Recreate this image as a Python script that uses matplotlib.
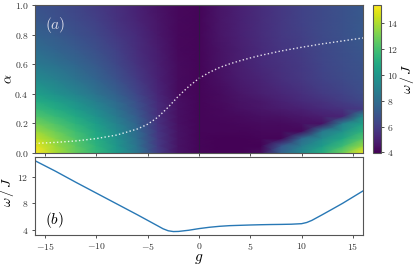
import numpy as np
import matplotlib
matplotlib.use("Agg")
import matplotlib.pyplot as plt
from matplotlib.ticker import FuncFormatter

plt.rcParams['mathtext.fontset'] = 'cm'
plt.rcParams['font.family'] = 'DejaVu Serif'

# heatmap grid
g_grid = [-16, -14, -12, -10, -8, -6, -4, -2, 0, 2, 4, 6, 8, 10, 12, 14, 16]
alpha_grid = [0.0, 0.05, 0.1, 0.15, 0.2, 0.25, 0.3, 0.35, 0.4, 0.5, 0.6, 0.7, 0.8, 0.9, 1.0]

# omega/J, one row per alpha value (bottom to top)
w_a000 = [15.4, 14.0, 12.7, 11.5, 10.1, 8.4, 6.0, 4.5, 4.1, 4.0, 4.0, 4.3, 7.6, 9.4, 11.1, 12.9, 15.2]
w_a005 = [15.0, 13.7, 12.5, 11.3, 9.9, 8.2, 5.9, 4.5, 4.1, 4.0, 4.0, 4.0, 7.0, 8.7, 10.2, 11.7, 13.6]
w_a010 = [14.4, 13.3, 12.2, 11.0, 9.7, 8.0, 5.8, 4.5, 4.1, 4.0, 4.0, 4.1, 4.1, 7.8, 9.4, 10.7, 12.3]
w_a015 = [13.7, 12.8, 11.8, 10.7, 9.4, 7.8, 5.7, 4.5, 4.1, 4.1, 4.1, 4.2, 4.2, 4.2, 8.5, 9.7, 11.3]
w_a020 = [13.0, 12.2, 11.3, 10.3, 9.0, 7.5, 5.6, 4.4, 4.1, 4.1, 4.2, 4.3, 4.3, 4.4, 4.5, 8.9, 10.5]
w_a025 = [12.3, 11.6, 10.8, 9.8, 8.6, 7.2, 5.5, 4.4, 4.1, 4.2, 4.3, 4.4, 4.5, 4.7, 4.9, 5.1, 9.6]
w_a030 = [11.6, 11.0, 10.2, 9.3, 8.2, 6.9, 5.4, 4.4, 4.1, 4.2, 4.4, 4.6, 4.8, 5.0, 5.3, 5.6, 5.9]
w_a035 = [11.0, 10.4, 9.7, 8.8, 7.8, 6.6, 5.3, 4.4, 4.1, 4.3, 4.5, 4.7, 5.0, 5.3, 5.6, 6.0, 6.4]
w_a040 = [10.4, 9.8, 9.1, 8.3, 7.4, 6.3, 5.2, 4.3, 4.1, 4.3, 4.6, 4.9, 5.2, 5.5, 5.9, 6.2, 6.6]
w_a050 = [9.4, 8.9, 8.3, 7.6, 6.8, 5.9, 5.0, 4.3, 4.1, 4.4, 4.8, 5.1, 5.5, 5.8, 6.2, 6.5, 6.8]
w_a060 = [8.6, 8.2, 7.7, 7.1, 6.4, 5.6, 4.9, 4.3, 4.1, 4.5, 4.9, 5.3, 5.6, 5.9, 6.3, 6.6, 6.9]
w_a070 = [8.0, 7.6, 7.2, 6.7, 6.1, 5.4, 4.8, 4.2, 4.1, 4.5, 4.9, 5.3, 5.7, 6.0, 6.4, 6.7, 7.0]
w_a080 = [7.5, 7.2, 6.8, 6.4, 5.8, 5.3, 4.7, 4.2, 4.1, 4.6, 5.0, 5.4, 5.8, 6.1, 6.5, 6.8, 7.1]
w_a090 = [7.1, 6.8, 6.5, 6.1, 5.6, 5.1, 4.6, 4.2, 4.1, 4.6, 5.0, 5.4, 5.8, 6.2, 6.5, 6.8, 7.1]
w_a100 = [6.8, 6.6, 6.3, 5.9, 5.5, 5.0, 4.5, 4.2, 4.1, 4.6, 5.0, 5.4, 5.8, 6.2, 6.5, 6.8, 7.1]

# dotted curve alpha*(g)
g_line = [-16, -14, -12, -10, -8, -6, -5, -4, -3, -2, -1, 0, 1, 2, 3, 4, 5, 6, 8, 10, 12, 14, 16]
alpha_line = [0.065, 0.072, 0.082, 0.098, 0.122, 0.163, 0.195, 0.243, 0.31, 0.385, 0.45, 0.505,
              0.545, 0.578, 0.603, 0.624, 0.643, 0.66, 0.69, 0.715, 0.738, 0.758, 0.778]

# panel (b)
g_b = [-16, -14, -12, -10, -8, -6, -5, -4, -3.5, -3, -2.5, -2, -1, 0, 1, 2, 3, 4, 5, 6, 7, 8,
       9, 10, 10.5, 11, 12, 13, 14, 15, 16]
w_b = [14.5, 12.9, 11.2, 9.55, 7.9, 6.25, 5.4, 4.55, 4.12, 3.82, 3.7, 3.72, 3.9, 4.15, 4.35,
       4.5, 4.6, 4.65, 4.7, 4.74, 4.77, 4.79, 4.82, 4.9, 5.08, 5.4, 6.25, 7.12, 8.0, 8.95, 9.9]

W = np.array([w_a000, w_a005, w_a010, w_a015, w_a020, w_a025, w_a030, w_a035, w_a040,
              w_a050, w_a060, w_a070, w_a080, w_a090, w_a100])
G, A = np.meshgrid(g_grid, alpha_grid)

fig = plt.figure(figsize=(4.15, 2.69), dpi=100)
ax1 = fig.add_axes([0.084, 0.431, 0.791, 0.550])
ax2 = fig.add_axes([0.084, 0.126, 0.791, 0.290])
cax = fig.add_axes([0.899, 0.431, 0.018, 0.550])

mesh = ax1.pcolormesh(G, A, W, shading='gouraud', cmap='viridis', vmin=3.95, vmax=15.4,
                      rasterized=True)
ax1.plot(g_line, alpha_line, ':', color='white', lw=1.0, alpha=0.85)
ax1.axvline(0, color='#2a1f3d', lw=0.8, alpha=0.8)
ax1.set_xlim(-16, 16)
ax1.set_ylim(0, 1)
ax1.set_xticks([-15, -10, -5, 0, 5, 10, 15])
ax1.set_xticklabels([])
ax1.set_yticks([0, 0.2, 0.4, 0.6, 0.8, 1.0])
ax1.yaxis.set_major_formatter(FuncFormatter(lambda v, p: r'$%.1f$' % v))
ax1.set_ylabel(r'$\alpha$', fontsize=10)
ax1.yaxis.set_label_coords(-0.058, 0.5)
ax1.text(-15, 0.93, r'$(a)$', color='#d9d9e6', fontsize=11, va='top', ha='left')

cb = fig.colorbar(mesh, cax=cax)
cb.set_ticks([4, 6, 8, 10, 12, 14])
cb.ax.yaxis.set_major_formatter(FuncFormatter(lambda v, p: r'$%d$' % v))
cb.set_label(r'$\omega\,/\,J$', fontsize=10, labelpad=0)
cb.outline.set_linewidth(0.6)

ax2.plot(g_b, w_b, color='#2878b5', lw=1.0)
ax2.set_xlim(-16, 16)
ax2.set_xticks([-15, -10, -5, 0, 5, 10, 15])
ax2.set_yticks([4, 8, 12])
ax2.xaxis.set_major_formatter(FuncFormatter(lambda v, p: r'$%d$' % v))
ax2.yaxis.set_major_formatter(FuncFormatter(lambda v, p: r'$%d$' % v))
ax2.set_xlabel(r'$g$', fontsize=11, labelpad=0)
ax2.set_ylabel(r'$\omega\,/\,J$', fontsize=10)
ax2.yaxis.set_label_coords(-0.056, 0.55)
ax2.text(-15, 4.0, r'$(b)$', fontsize=11, va='bottom', ha='left')

for ax in (ax1, ax2, cb.ax):
    ax.tick_params(labelsize=7, length=2.5, width=0.6, pad=2, colors='#333333')
    for s in ax.spines.values():
        s.set_linewidth(0.8)
        s.set_color('#555555')

fig.savefig('out.png', dpi=100)
